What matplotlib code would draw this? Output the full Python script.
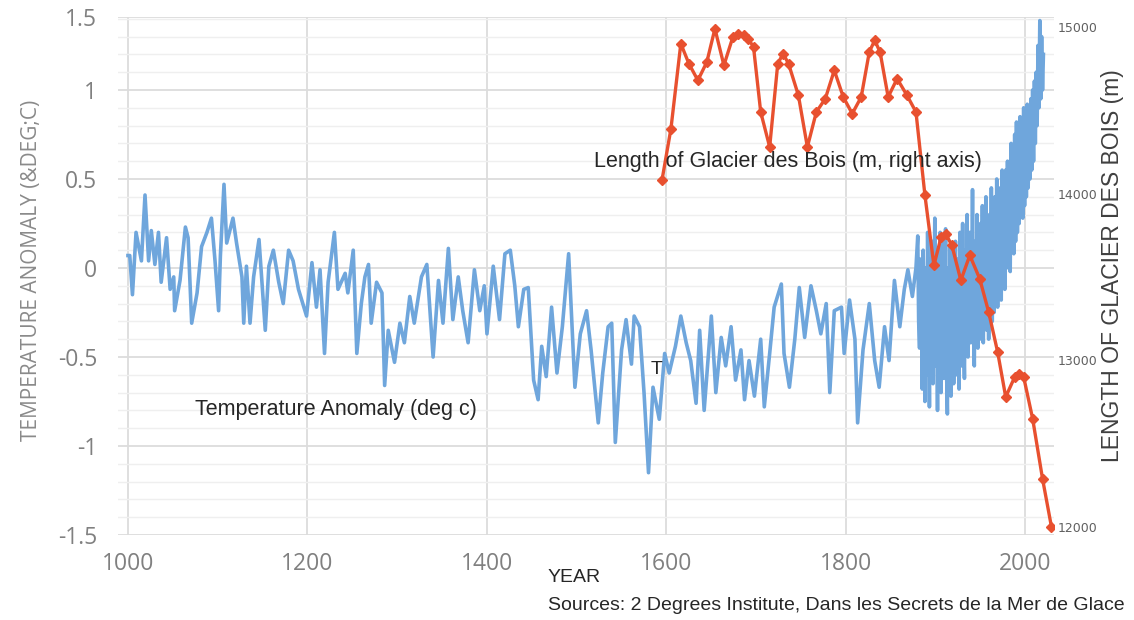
import matplotlib
matplotlib.use("Agg")
import matplotlib.pyplot as plt
from matplotlib.ticker import MultipleLocator

# ---------------- data ----------------
temp_years = [1000, 1002, 1005, 1009, 1015, 1019, 1023, 1026, 1030, 1034, 1037, 1043, 1047, 1051, 1052,
              1058, 1064, 1067, 1071, 1077, 1082, 1088, 1093, 1097, 1101, 1103, 1107, 1110, 1117, 1121,
              1127, 1129, 1132, 1136, 1140, 1146, 1153, 1157, 1162, 1168, 1173, 1179, 1184, 1190, 1199,
              1205, 1210, 1214, 1219, 1223, 1230, 1234, 1242, 1245, 1251, 1255, 1260, 1264, 1268, 1271,
              1277, 1283, 1286, 1290, 1297, 1303, 1308, 1314, 1319, 1327, 1333, 1340, 1346, 1351, 1357,
              1362, 1368, 1373, 1379, 1386, 1392, 1397, 1400, 1407, 1414, 1420, 1426, 1431, 1435, 1441,
              1446, 1452, 1457, 1461, 1466, 1472, 1478, 1484, 1491, 1498, 1504, 1511, 1516, 1524, 1529,
              1535, 1539, 1543, 1550, 1555, 1561, 1564, 1570, 1575, 1580, 1585, 1592, 1598, 1603, 1610,
              1616, 1622, 1627, 1633, 1637, 1642, 1650, 1655, 1661, 1666, 1672, 1677, 1683, 1687, 1692,
              1698, 1705, 1709, 1715, 1720, 1728, 1731, 1737, 1743, 1748, 1754, 1761, 1767, 1772, 1778,
              1782, 1787, 1795, 1798, 1804, 1810, 1813, 1819, 1826, 1832, 1837, 1843, 1848, 1854, 1860,
              1865, 1869, 1874, 1878] + list(range(1880, 2021))
temp_values = [0.07, 0.07, -0.15, 0.20, 0.04, 0.41, 0.04, 0.21, 0.02, 0.20, -0.08, 0.17, -0.12, -0.05, -0.24,
               -0.07, 0.23, 0.17, -0.31, -0.14, 0.12, 0.20, 0.28, 0.04, -0.24, 0.07, 0.47, 0.14, 0.28, 0.14,
               -0.05, -0.31, 0.01, -0.31, -0.05, 0.16, -0.35, 0.01, 0.10, -0.08, -0.20, 0.10, 0.04, -0.12, -0.27,
               0.03, -0.22, -0.01, -0.48, -0.08, 0.20, -0.12, -0.03, -0.14, 0.10, -0.48, -0.20, -0.05, 0.02, -0.31,
               -0.08, -0.14, -0.66, -0.35, -0.53, -0.31, -0.42, -0.16, -0.31, -0.05, 0.02, -0.50, -0.07, -0.31, 0.11,
               -0.29, -0.05, -0.24, -0.42, -0.01, -0.24, -0.10, -0.37, 0.01, -0.29, 0.08, 0.10, -0.10, -0.33, -0.12,
               -0.11, -0.63, -0.74, -0.44, -0.61, -0.22, -0.59, -0.33, 0.08, -0.67, -0.37, -0.24, -0.46, -0.87, -0.59,
               -0.33, -0.31, -0.98, -0.46, -0.29, -0.54, -0.27, -0.33, -0.70, -1.15, -0.67, -0.85, -0.48, -0.59, -0.44,
               -0.27, -0.42, -0.52, -0.76, -0.35, -0.80, -0.27, -0.70, -0.39, -0.55, -0.33, -0.63, -0.46, -0.74, -0.52,
               -0.72, -0.40, -0.78, -0.48, -0.22, -0.09, -0.48, -0.67, -0.40, -0.11, -0.39, -0.10, -0.24, -0.37, -0.20,
               -0.70, -0.24, -0.22, -0.48, -0.18, -0.40, -0.87, -0.46, -0.20, -0.52, -0.67, -0.33, -0.52, -0.07, -0.33,
               -0.12, -0.01, -0.16, 0.00,
               # 1880-2020, yearly
               0.18, -0.30, -0.45, 0.05, -0.20, -0.68, 0.10, -0.40, -0.75, 0.00,
               -0.60, 0.20, -0.30, -0.78, 0.05, -0.50, 0.15, -0.65, -0.20, 0.28,
               -0.55, -0.10, -0.80, 0.10, -0.40, 0.20, -0.70, -0.15, 0.15, -0.62,
               -0.30, 0.22, -0.55, -0.82, 0.00, -0.45, 0.12, -0.72, -0.25, 0.10,
               -0.65, -0.20, 0.15, -0.60, -0.30, 0.05, -0.68, 0.20, -0.40, -0.55,
               0.25, -0.35, -0.62, 0.10, -0.45, 0.30, -0.50, -0.10, 0.20, -0.42,
               -0.20, 0.44, -0.30, -0.55, 0.15, -0.35, 0.30, -0.45, 0.05, -0.40,
               0.25, -0.30, 0.35, -0.42, 0.10, -0.25, 0.40, -0.35, 0.20, -0.40,
               0.30, -0.20, 0.45, -0.30, 0.15, -0.25, 0.40, -0.15, 0.50, -0.22,
               0.30, -0.10, 0.45, -0.18, 0.55, -0.05, 0.35, -0.12, 0.55, 0.00,
               0.60, 0.05, 0.45, -0.02, 0.70, 0.10, 0.55, 0.08, 0.75, 0.15,
               0.82, 0.20, 0.60, 0.25, 0.85, 0.30, 0.70, 0.28, 0.90, 0.35,
               0.88, 0.40, 0.92, 0.45, 0.80, 0.50, 0.95, 0.55, 1.00, 0.60,
               1.05, 0.70, 1.10, 0.80, 1.25, 0.90, 1.39, 0.95, 1.30, 1.00, 1.20]

glacier_years = [1595, 1605, 1616, 1625, 1635, 1645, 1654, 1664, 1674, 1680, 1686, 1691, 1697, 1705, 1715,
                 1724, 1730, 1736, 1747, 1757, 1767, 1777, 1787, 1797, 1807, 1817, 1826, 1832, 1838, 1847,
                 1857, 1868, 1878, 1888, 1898, 1906, 1911, 1918, 1928, 1938, 1949, 1959, 1969, 1978, 1988,
                 1993, 1998, 2008, 2019, 2029]
glacier_length = [14080, 14390, 14900, 14780, 14680, 14790, 14990, 14770, 14940, 14960, 14950, 14930, 14880, 14490, 14280,
                  14780, 14840, 14780, 14590, 14280, 14490, 14570, 14740, 14580, 14480, 14580, 14850, 14920, 14850, 14580,
                  14690, 14590, 14490, 13990, 13570, 13740, 13760, 13690, 13480, 13630, 13490, 13290, 13050, 12780, 12900,
                  12920, 12900, 12650, 12290, 12000]

x_ticks = [1000, 1200, 1400, 1600, 1800, 2000]
left_ticks = [-1.5, -1, -0.5, 0, 0.5, 1, 1.41]
left_tick_labels = ["-1.5", "-1", "-0.5", "0", "0.5", "1", "1.5"]
right_ticks = [12000, 13000, 14000, 15000]

# ---------------- figure ----------------
W, H = 1134, 620
fig = plt.figure(figsize=(W / 100, H / 100), dpi=100)
ax = fig.add_axes([118 / W, 1 - 535 / H, (1054 - 118) / W, (535 - 17) / H])

blue = "#6fa6dc"
red = "#e8502f"

ax.set_xlim(988.9, 2031.8)
ax.set_ylim(-1.5, 1.41)
ax.yaxis.set_minor_locator(MultipleLocator(0.1))
ax.set_xticks(x_ticks)
ax.set_xticklabels([str(t) for t in x_ticks])
ax.set_yticks(left_ticks)
ax.set_yticklabels(left_tick_labels)
ax.grid(True, which="major", axis="both", color="#dcdcdc", linewidth=1.3)
ax.grid(True, which="minor", axis="y", color="#efefef", linewidth=1.0)
ax.set_axisbelow(True)
for s in ax.spines.values():
    s.set_visible(False)
ax.tick_params(axis="both", which="both", length=0, colors="#808080")
ax.tick_params(axis="x", labelsize=16.5, pad=12)
ax.tick_params(axis="y", labelsize=16.5, pad=15)
for lab in ax.get_xticklabels() + ax.get_yticklabels():
    lab.set_family(["Open Sans", "DejaVu Sans"])

ax.plot(temp_years, temp_values, color=blue, linewidth=2.6, solid_joinstyle="round", zorder=2)

ax2 = ax.twinx()
ax2.set_ylim(11952, 15060)
ax2.set_yticks(right_ticks)
ax2.set_yticklabels([str(t) for t in right_ticks])
for s in ax2.spines.values():
    s.set_visible(False)
ax2.tick_params(axis="y", length=0, colors="#606060", labelsize=9, pad=3)
for lab in ax2.get_yticklabels():
    lab.set_family(["Liberation Sans Narrow", "DejaVu Sans"])
ax2.plot(glacier_years, glacier_length, color=red, linewidth=2.4, marker="D",
         markersize=5, markerfacecolor=red, markeredgecolor=red, zorder=3)

# ---------------- labels ----------------
fig.text(32 / W, 1 - 270 / H, "TEMPERATURE ANOMALY (&DEG;C)", rotation=90,
         ha="center", va="center", fontsize=15, color="#8a8a8a", family=["Open Sans", "DejaVu Sans"])
fig.text(1112 / W, 1 - 266 / H, "LENGTH OF GLACIER DES BOIS (m)", rotation=90,
         ha="center", va="center", fontsize=16.5, color="#404040", family=["Liberation Sans", "DejaVu Sans"])
fig.text(788 / W, 1 - 162 / H, "Length of Glacier des Bois (m, right axis)", ha="center", va="center",
         fontsize=15.5, color="#262626", family=["Liberation Sans", "DejaVu Sans"])
fig.text(336 / W, 1 - 409 / H, "Temperature Anomaly (deg c)", ha="center", va="center",
         fontsize=15.5, color="#262626", family=["Liberation Sans", "DejaVu Sans"])
fig.text(657 / W, 1 - 369 / H, "T", ha="center", va="center",
         fontsize=14, color="#262626", family=["Liberation Sans", "DejaVu Sans"])
fig.text(548 / W, 1 - 578 / H, "YEAR", ha="left", va="center",
         fontsize=14, color="#262626", family=["Liberation Sans", "DejaVu Sans"])
fig.text(548 / W, 1 - 605 / H, "Sources: 2 Degrees Institute, Dans les Secrets de la Mer de Glace",
         ha="left", va="center", fontsize=14, color="#262626", family=["Liberation Sans", "DejaVu Sans"])

fig.savefig("out.png", dpi=100)
